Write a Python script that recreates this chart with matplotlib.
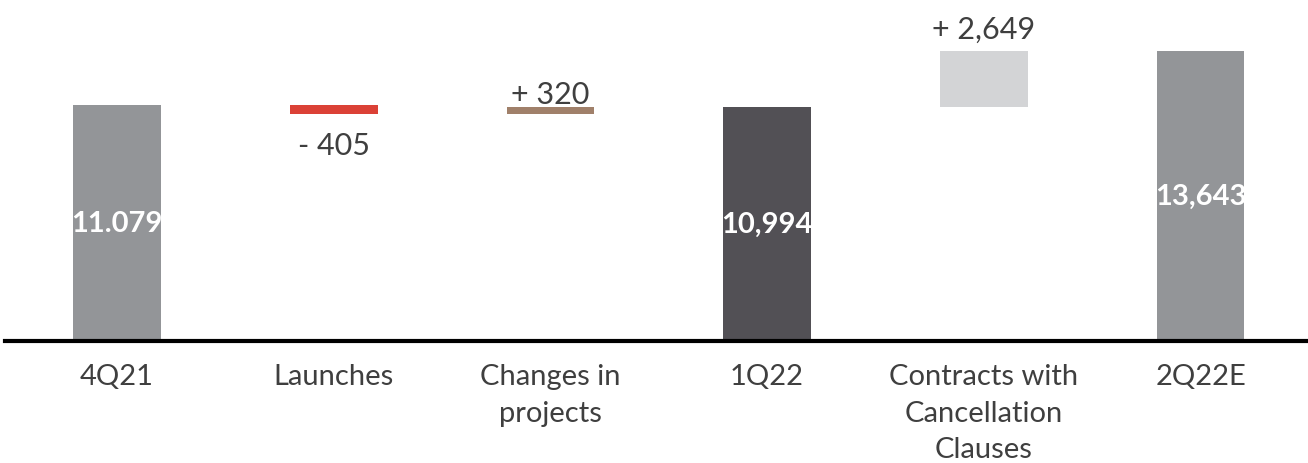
import numpy as np
import matplotlib.pyplot as plt

plt.rcParams['font.family'] = ['Lato', 'DejaVu Sans']

# Waterfall data
categories = ['4Q21', 'Launches', 'Changes in\nprojects', '1Q22',
              'Contracts with\nCancellation\nClauses', '2Q22E']
totals = {'4Q21': 11079, '1Q22': 10994, '2Q22E': 13643}
deltas = [-405, 320, 2649]
total_labels = ['11.079', '10,994', '13,643']
delta_labels = ['- 405', '+ 320', '+ 2,649']

colors = ['#939598', '#db4136', '#a0806a', '#525055', '#d3d4d6', '#939598']
text_color = '#3f3f3f'

# running levels for floating bars
start = totals['4Q21']
after_launch = start + deltas[0]
after_changes = after_launch + deltas[1]
bottoms = [0, after_launch, after_launch, 0, after_changes, 0]
heights = [start, -deltas[0], deltas[1], totals['1Q22'], deltas[2], totals['2Q22E']]

fig = plt.figure(figsize=(13.08, 4.64), dpi=100)
ax = fig.add_axes([0, 0.263, 1, 0.737])

x = np.arange(len(categories))
ax.bar(x, heights, bottom=bottoms, width=0.405, color=colors, zorder=2)

ax.set_xlim(-0.54, 5.496)
ax.set_ylim(0, 16074)
ax.axhline(0, xmin=5 / 1308, xmax=1, color='black', lw=3, zorder=3, clip_on=False)

for s in ax.spines.values():
    s.set_visible(False)
ax.set_yticks([])
ax.set_xticks(x)
ax.set_xticklabels(categories, fontsize=21, color=text_color, linespacing=1.5, va='top')
ax.tick_params(axis='x', length=0, pad=16)

# totals inside the bars
for i, lab in zip([0, 3, 5], total_labels):
    ax.text(x[i], heights[i] / 2, lab, ha='center', va='center', color='white',
            fontsize=21, fontweight='bold', zorder=4)

# change labels
ax.annotate(delta_labels[0], (x[1], after_launch), xytext=(0, -12), textcoords='offset points',
            ha='center', va='top', fontsize=22, color=text_color)
ax.annotate(delta_labels[1], (x[2], after_changes), xytext=(0, -1), textcoords='offset points',
            ha='center', va='bottom', fontsize=22, color=text_color)
ax.annotate(delta_labels[2], (x[4], totals['2Q22E']), xytext=(0, 6), textcoords='offset points',
            ha='center', va='bottom', fontsize=22, color=text_color)

fig.savefig('out.png', dpi=100)
